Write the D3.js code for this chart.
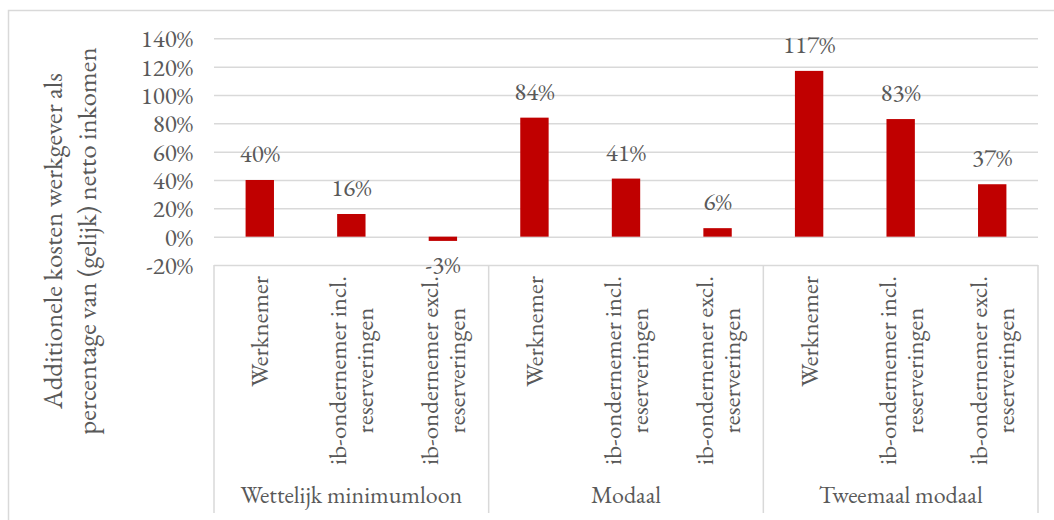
<!DOCTYPE html>
<html>
<head>
<meta charset="utf-8">
<script src="https://cdn.jsdelivr.net/npm/d3@7"></script>
<style>
    body { margin: 0; background: #fff; }
</style>
</head>
<body>
<script>
// data
const groups = ["Wettelijk minimumloon", "Modaal", "Tweemaal modaal"];
const types = [
    ["Werknemer"],
    ["ib-ondernemer incl.", "reserveringen"],
    ["ib-ondernemer excl.", "reserveringen"]
];
const values = [40, 16, -3, 84, 41, 6, 117, 83, 37];
const yTicks = [-20, 0, 20, 40, 60, 80, 100, 120, 140];
const yTitle = ["Additionele kosten werkgever als", "percentage van (gelijk) netto inkomen"];

const W = 1054, H = 520;
const plot = { left: 214, right: 1038, top: 38.3, bottom: 265 };
const fs = 25;
const font = '"EB Garamond", "Liberation Serif", serif';
const textColor = "#595959";

const svg = d3.select("body").append("svg")
    .attr("width", W)
    .attr("height", H);

// outer chart border
svg.append("rect")
    .attr("x", 8.5).attr("y", 10.5)
    .attr("width", 1200).attr("height", 700)
    .attr("fill", "none")
    .attr("stroke", "#d9d9d9")
    .attr("stroke-width", 1.5);

const cats = [];
groups.forEach((g, gi) => types.forEach((t, ti) => cats.push({ group: g, gi: gi, type: t, i: cats.length })));

const yScale = d3.scaleLinear()
    .domain([-20, 140])
    .range([plot.bottom, plot.top]);

const xScale = d3.scaleBand()
    .domain(cats.map(d => d.i))
    .range([plot.left, plot.right])
    .paddingInner(0.69)
    .paddingOuter(0.345);

const groupScale = d3.scaleBand()
    .domain(groups)
    .range([plot.left, plot.right]);

function styleText(sel, size) {
    sel.style("font-family", font)
        .style("font-size", (size || fs) + "px")
        .style("fill", textColor);
}

// gridlines + tick labels
const yAxis = d3.axisLeft(yScale)
    .tickValues(yTicks)
    .tickFormat(d => d + "%")
    .tickSize(-(plot.right - plot.left))
    .tickPadding(21);

const yAxisDraw = svg.append("g")
    .attr("class", "y axis")
    .attr("transform", `translate(${plot.left},0)`)
    .call(yAxis);

yAxisDraw.select(".domain").remove();
yAxisDraw.selectAll("line")
    .attr("stroke", "#d9d9d9")
    .attr("stroke-width", 1.5);
yAxisDraw.selectAll("text")
    .call(styleText)
    .attr("dy", "0.34em");

// category box separators
const sepY2 = 513;
svg.append("g")
    .selectAll("line")
    .data(groups.map(g => groupScale(g)).concat([plot.right]))
    .enter()
    .append("line")
    .attr("x1", d => d).attr("x2", d => d)
    .attr("y1", plot.bottom).attr("y2", sepY2)
    .attr("stroke", "#d9d9d9")
    .attr("stroke-width", 1.5);

// bars
svg.append("g")
    .selectAll("rect")
    .data(cats)
    .enter()
    .append("rect")
    .attr("x", d => xScale(d.i))
    .attr("width", xScale.bandwidth())
    .attr("y", d => yScale(Math.max(0, values[d.i])))
    .attr("height", d => Math.abs(yScale(values[d.i]) - yScale(0)))
    .attr("fill", "#c00000");

// value labels
svg.append("g")
    .selectAll("text")
    .data(cats)
    .enter()
    .append("text")
    .attr("x", d => xScale(d.i) + xScale.bandwidth() / 2)
    .attr("y", d => values[d.i] >= 0 ? yScale(values[d.i]) - 18 : yScale(values[d.i]) + 32)
    .attr("text-anchor", "middle")
    .call(styleText)
    .text(d => values[d.i] + "%");

// rotated category labels, lines centred on each other, block hangs from the top
const catLabels = svg.append("g")
    .selectAll("g")
    .data(cats)
    .enter()
    .append("g")
    .attr("transform", d => `translate(${xScale(d.i) + xScale.bandwidth() / 2}, 276) rotate(-90)`);

catLabels.each(function (d) {
    const g = d3.select(this);
    const n = d.type.length;
    const lines = g.selectAll("text")
        .data(d.type)
        .enter()
        .append("text")
        .call(styleText)
        .attr("text-anchor", "middle")
        .attr("y", (t, k) => (k - (n - 1) / 2) * 27 + 8.5)
        .text(t => t);
    let maxLen = 0;
    lines.each(function () { maxLen = Math.max(maxLen, this.getComputedTextLength()); });
    lines.attr("x", -maxLen / 2);
});

// group labels
svg.append("g")
    .selectAll("text")
    .data(groups)
    .enter()
    .append("text")
    .attr("x", d => groupScale(d) + groupScale.bandwidth() / 2)
    .attr("y", 503)
    .attr("text-anchor", "middle")
    .call(styleText, 24)
    .text(d => d);

// y axis title
const title = svg.append("text")
    .attr("transform", "translate(0,241) rotate(-90)")
    .attr("text-anchor", "middle")
    .call(styleText, 27);

title.selectAll("tspan")
    .data(yTitle)
    .enter()
    .append("tspan")
    .attr("x", 0)
    .attr("y", (d, i) => 62 + i * 34)
    .text(d => d);
</script>
</body>
</html>
